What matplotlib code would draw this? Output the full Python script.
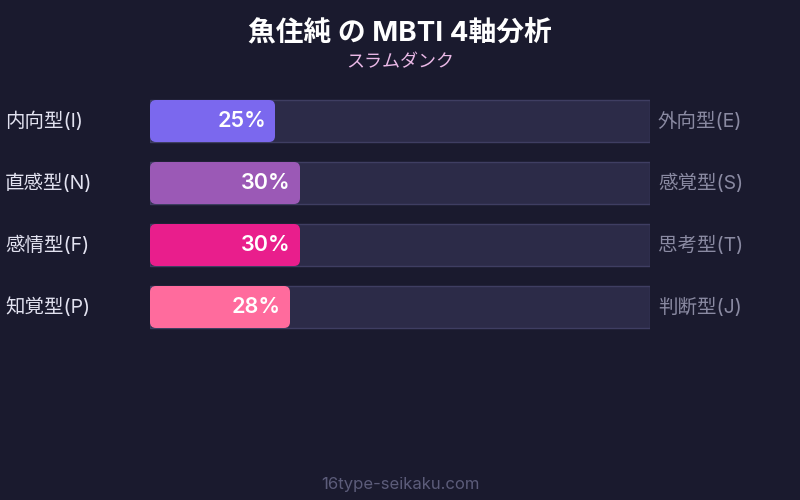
import matplotlib
matplotlib.use('Agg')
import matplotlib.pyplot as plt
from matplotlib.patches import FancyBboxPatch

plt.rcParams['font.family'] = ['Inter', 'Noto Sans CJK JP', 'DejaVu Sans']

title = '魚住純 の MBTI 4軸分析'
subtitle = 'スラムダンク'
footer = '16type-seikaku.com'
left_labels = ['内向型(I)', '直感型(N)', '感情型(F)', '知覚型(P)']
right_labels = ['外向型(E)', '感覚型(S)', '思考型(T)', '判断型(J)']
values = [25, 30, 30, 28]
colors = ['#7b68ee', '#9b59b6', '#e91e8c', '#ff6b9d']

bg = '#1a1a2e'
track = '#2c2b48'
track_edge = '#3f3e62'

fig = plt.figure(figsize=(8, 5), dpi=100, facecolor=bg)
# axes covers the track area: 150..650 px wide, rows of 62 px from y=90
ax = fig.add_axes([150/800, (500-338)/500, 500/800, 248/500])
ax.set_facecolor(bg)
ax.set_xlim(0, 100)
ax.set_ylim(3.5, -0.5)
ax.axis('off')

bar_h = 42/62
ys = list(range(len(values)))
ax.barh(ys, [100]*len(ys), height=bar_h, color=track, edgecolor=track_edge, linewidth=1)

for y, v, c, ll, rl in zip(ys, values, colors, left_labels, right_labels):
    box = FancyBboxPatch((0, y - bar_h/2), v, bar_h,
                         boxstyle='round,pad=0,rounding_size=1.2',
                         mutation_aspect=5/62, facecolor=c, edgecolor='none')
    ax.add_patch(box)
    ax.text(v - 1.8, y, f'{v}%', ha='right', va='center', color='white',
            fontsize=15.5, fontweight='semibold')
    ax.text(-29, y, ll, ha='left', va='center', color='#e2e2f0', fontsize=14, clip_on=False)
    ax.text(101.6, y, rl, ha='left', va='center', color='#8a8aa2', fontsize=14, clip_on=False)

fig.text(0.5, 1 - 33/500, title, ha='center', va='center', color='white',
         fontsize=20, fontweight='bold')
fig.text(0.5, 1 - 63/500, subtitle, ha='center', va='center', color='#eab8e6', fontsize=13)
fig.text(0.5, 1 - 485/500, footer, ha='center', va='center', color='#5c5c7a', fontsize=12)

fig.savefig('out.png', dpi=100, facecolor=bg)
